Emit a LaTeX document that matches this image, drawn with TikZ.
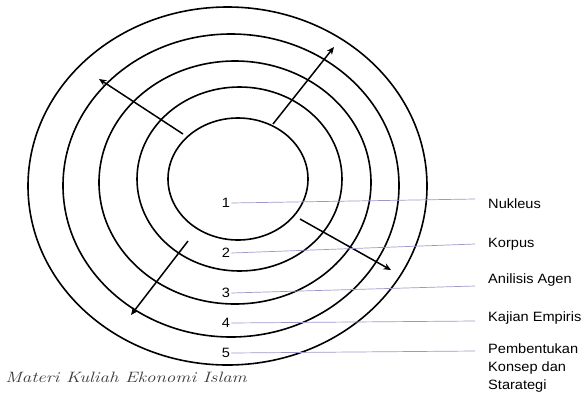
\documentclass[tikz,border=0pt]{standalone}
\usepackage{fontspec}
\newfontfamily\labelfont{Liberation Sans}
\usepackage{xcolor}
\definecolor{leadline}{HTML}{9C99C8}
\definecolor{scripttext}{HTML}{3A3A3A}
\usetikzlibrary{arrows.meta,shapes.geometric}
\tikzset{
  ring/.style = {ellipse, draw=black, line width=1.6pt, inner sep=0pt},
  flow/.style = {-{Stealth[length=7.5pt,width=6.5pt]}, line width=1.5pt},
  lead/.style = {draw=leadline, line width=0.7pt},
  num/.style  = {font=\labelfont\fontsize{13.5}{15}\selectfont, inner sep=1pt, xscale=1.08},
  tag/.style  = {font=\labelfont\fontsize{13.5}{18}\selectfont, inner sep=0pt,
                 xscale=1.08, align=left}
}

\begin{document}
\begin{tikzpicture}[x=1pt,y=-1pt]
  \useasboundingbox (0,0) rectangle (583,394);
  % rings, innermost first
  \foreach \n/\cx/\cy/\rx/\ry in {1/238/179/70/61, 2/239.5/179/102.5/92,
      3/235/182.5/136/121.5, 4/231/185.5/168/151.5, 5/227.5/186/199.5/179}
    \node[ring, minimum width=2*\rx pt, minimum height=2*\ry pt] (r\n) at (\cx,\cy) {};

  % arrows going out of the nucleus
  \coordinate (ulS) at (183,134);  \coordinate (ulE) at (99,79);
  \coordinate (urS) at (273,124);  \coordinate (urE) at (334,47);
  \coordinate (lrS) at (300,219);  \coordinate (lrE) at (391,270);
  \coordinate (llS) at (188,241);  \coordinate (llE) at (131,315);
  \foreach \a/\b in {ulS/ulE,urS/urE,lrS/lrE,llS/llE}
    \draw[flow] (\a) -- (\b);

  % numbers and leaders
  \foreach \i/\y/\ye in {1/203/199, 2/253/244, 3/293/286, 4/323/321, 5/353/351} {
    \node[num] (n\i) at (226,\y) {\i};
    \coordinate (e\i) at (475,\ye);
    \draw[lead] (n\i.east) -- (e\i);
  }

  \node[tag, anchor=base west] (nukleus) at (488,208) {Nukleus};
  \node[tag, anchor=base west] (korpus)  at (488,247) {Korpus};
  \node[tag, anchor=base west] (agen)    at (488,283) {Anilisis Agen};
  \node[tag, anchor=base west] (empiris) at (488,321.5) {Kajian Empiris};
  \node[tag, anchor=north west] (konsep) at (488,344) {Pembentukan\\Konsep dan\\Starategi};

  \node[font=\itshape\fontsize{15}{15}\selectfont, text=scripttext, anchor=west,
        xscale=1.26, inner sep=0pt] (credit) at (5,377) {Materi Kuliah Ekonomi Islam};
\end{tikzpicture}
\end{document}
